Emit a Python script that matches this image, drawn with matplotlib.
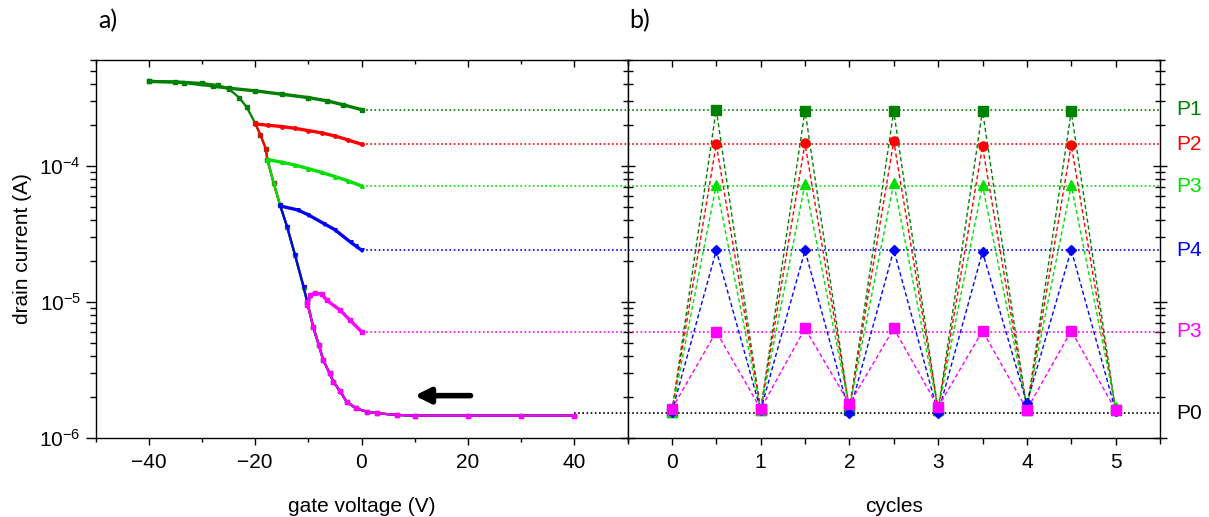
import numpy as np
import matplotlib.pyplot as plt
from matplotlib.ticker import MultipleLocator, LogLocator, NullFormatter
import matplotlib.transforms as mtransforms

plt.rcParams['font.family'] = ['Liberation Sans', 'DejaVu Sans']
plt.rcParams['mathtext.fontset'] = 'custom'
plt.rcParams['mathtext.rm'] = 'Liberation Sans'

# --- panel a: transfer curve (down sweep, shared by all runs) ---
vg_down = [-40, -35, -30, -27, -25, -23, -21.6, -20, -19, -18, -17.7, -16.5, -15.3, -14,
           -12.5, -10.9, -10.2, -9.1, -8, -7.2, -6, -5.3, -4, -2.8, -1, 1, 3, 6.6, 10, 20, 30, 40]
id_down = [4.25e-4, 4.2e-4, 4.1e-4, 3.95e-4, 3.72e-4, 3.2e-4, 2.73e-4, 2.08e-4, 1.7e-4, 1.35e-4,
           1.12e-4, 7.5e-5, 5.16e-5, 3.6e-5, 2.22e-5, 1.3e-5, 1.0e-5, 6.6e-6, 4.8e-6, 3.75e-6,
           3.0e-6, 2.6e-6, 2.2e-6, 1.85e-6, 1.65e-6, 1.56e-6, 1.52e-6, 1.48e-6, 1.46e-6,
           1.46e-6, 1.46e-6, 1.46e-6]

# return branches (stop voltage -> 0 V)
vg_p1 = [-40, -33.3, -28, -24.9, -20, -15, -10, -6.5, -3.4, 0]
id_p1 = [4.21e-4, 4.13e-4, 3.9e-4, 3.75e-4, 3.59e-4, 3.39e-4, 3.2e-4, 3.03e-4, 2.83e-4, 2.61e-4]
vg_p2 = [-20, -17.5, -15, -12.5, -10, -7.5, -5, -2.5, 0]
id_p2 = [2.05e-4, 2.0e-4, 1.96e-4, 1.9e-4, 1.83e-4, 1.76e-4, 1.67e-4, 1.56e-4, 1.45e-4]
vg_p3 = [-17.7, -15, -12.5, -10, -7.5, -5, -2.5, 0]
id_p3 = [1.12e-4, 1.07e-4, 1.02e-4, 9.6e-5, 9.0e-5, 8.4e-5, 7.8e-5, 7.15e-5]
vg_p4 = [-15.3, -12, -10, -7, -5, -2, -1, 0]
id_p4 = [5.1e-5, 4.77e-5, 4.39e-5, 3.77e-5, 3.41e-5, 2.75e-5, 2.58e-5, 2.41e-5]
vg_p5 = [-10.2, -9.6, -8.7, -7.5, -6.5, -4, -2.2, 0]
id_p5 = [9.5e-6, 1.12e-5, 1.17e-5, 1.14e-5, 1.03e-5, 8.7e-6, 7.4e-6, 6.05e-6]

# --- panel b: cycling ---
cyc_low = [0, 1, 2, 3, 4, 5]
cyc_high = [0.5, 1.5, 2.5, 3.5, 4.5]
low_p1 = [1.55e-6, 1.6e-6, 1.62e-6, 1.6e-6, 1.62e-6, 1.6e-6]
low_p2 = [1.58e-6, 1.62e-6, 1.65e-6, 1.62e-6, 1.65e-6, 1.62e-6]
low_p3 = [1.55e-6, 1.6e-6, 1.66e-6, 1.6e-6, 1.68e-6, 1.68e-6]
low_p4 = [1.55e-6, 1.6e-6, 1.52e-6, 1.52e-6, 1.8e-6, 1.58e-6]
low_p5 = [1.64e-6, 1.64e-6, 1.78e-6, 1.69e-6, 1.62e-6, 1.6e-6]
high_p1 = [2.61e-4, 2.57e-4, 2.53e-4, 2.57e-4, 2.53e-4]
high_p2 = [1.45e-4, 1.47e-4, 1.53e-4, 1.40e-4, 1.44e-4]
high_p3 = [7.3e-5, 7.45e-5, 7.55e-5, 7.25e-5, 7.25e-5]
high_p4 = [2.4e-5, 2.4e-5, 2.43e-5, 2.34e-5, 2.43e-5]
high_p5 = [6.05e-6, 6.4e-6, 6.4e-6, 6.15e-6, 6.15e-6]

levels = [2.6e-4, 1.45e-4, 7.15e-5, 2.4e-5, 6.05e-6, 1.52e-6]
level_names = ['P1', 'P2', 'P3', 'P4', 'P3', 'P0']

colors = ['#008000', '#FF0000', '#00E000', '#0000FF', '#FF00FF', '#000000']
markers = ['s', 'o', '^', 'D', 's']

W, H = 1209, 517
fig = plt.figure(figsize=(W / 100, H / 100), dpi=100)
bot = 1 - 438 / H
hgt = (438 - 60) / H
ax1 = fig.add_axes([95.5 / W, bot, 532 / W, hgt])
ax2 = fig.add_axes([627.5 / W, bot, 532.5 / W, hgt])

# panel a
vg_down = np.array(vg_down)
id_down = np.array(id_down)
branches = [(vg_p1, id_p1), (vg_p2, id_p2), (vg_p3, id_p3), (vg_p4, id_p4), (vg_p5, id_p5)]
amark = ['s', 'o', '^', 'v', 's']
for i, (vx, vy) in enumerate(branches):
    keep = vg_down >= vx[0]
    ax1.plot(vg_down[keep], id_down[keep], color=colors[i], lw=1.6, marker=amark[i],
             ms=2.5, zorder=3 + i)
    ax1.plot(vx, vy, color=colors[i], lw=2.4, marker=amark[i], ms=2.5, zorder=3 + i)

dots = (0, (1, 1.5))
for i, lv in enumerate(levels):
    x0 = 40 if i == 5 else 0
    ax1.hlines(lv, x0, 50, colors=colors[i], linestyles=dots, lw=1.2, zorder=2)
    ax2.axhline(lv, color=colors[i], ls=dots, lw=1.2, zorder=2)

ax1.annotate('', xy=(10, 2.05e-6), xytext=(20.5, 2.05e-6),
             arrowprops=dict(arrowstyle='-|>,head_length=0.9,head_width=0.45',
                             color='black', lw=4, shrinkA=0, shrinkB=0))

# panel b
lows = [low_p1, low_p2, low_p3, low_p4, low_p5]
highs = [high_p1, high_p2, high_p3, high_p4, high_p5]
for i in range(5):
    xs, ys = [], []
    for k in range(6):
        xs.append(cyc_low[k])
        ys.append(lows[i][k])
        if k < 5:
            xs.append(cyc_high[k])
            ys.append(highs[i][k])
    ax2.plot(xs, ys, color=colors[i], ls=(0, (3, 2)), lw=1.0, marker=markers[i],
             ms=6.5 if markers[i] != 'D' else 5.5, zorder=3 + i)

trans = mtransforms.blended_transform_factory(ax2.transAxes, ax2.transData)
for i, lv in enumerate(levels):
    ax2.text(1.03, lv, level_names[i], color=colors[i], fontsize=15,
             ha='left', va='center', transform=trans)

for ax in (ax1, ax2):
    ax.set_yscale('log')
    ax.set_ylim(1e-6, 6.05e-4)
    ax.yaxis.set_minor_locator(LogLocator(base=10, subs=np.arange(2, 10)))
    ax.yaxis.set_minor_formatter(NullFormatter())
    for s in ax.spines.values():
        s.set_linewidth(1.0)

ax1.set_xlim(-50, 50)
ax1.xaxis.set_major_locator(MultipleLocator(20))
ax1.xaxis.set_minor_locator(MultipleLocator(10))
ax1.tick_params(axis='x', which='both', top=True, labelsize=15, pad=6)
ax1.tick_params(axis='x', which='major', length=5, width=1)
ax1.tick_params(axis='x', which='minor', length=3, width=1)
ax1.tick_params(axis='y', which='major', direction='out', length=7, width=1, labelsize=15)
ax1.tick_params(axis='y', which='minor', direction='out', length=4, width=1)
ax1.set_xlabel('gate voltage (V)', fontsize=15, labelpad=18)
ax1.set_ylabel('drain current (A)', fontsize=15, labelpad=5)

ax2.set_xlim(-0.5, 5.5)
ax2.xaxis.set_major_locator(MultipleLocator(1))
ax2.xaxis.set_minor_locator(MultipleLocator(0.5))
ax2.tick_params(axis='x', which='both', top=True, labelsize=15, pad=6)
ax2.tick_params(axis='x', which='major', length=5, width=1)
ax2.tick_params(axis='x', which='minor', length=4, width=1)
ax2.tick_params(axis='y', which='both', left=True, right=True, labelleft=False,
                direction='inout', width=1)
ax2.tick_params(axis='y', which='major', length=10)
ax2.tick_params(axis='y', which='minor', length=7)
ax2.set_xlabel('cycles', fontsize=15, labelpad=18)

# top ticks point inward
for ax in (ax1, ax2):
    for t in ax.xaxis.get_major_ticks() + ax.xaxis.get_minor_ticks():
        t.tick2line.set_marker(3)

fig.text(98 / W, 1 - 21 / H, 'a)', fontsize=18, family=['Lato', 'DejaVu Sans'], va='center')
fig.text(629 / W, 1 - 21 / H, 'b)', fontsize=18, family=['Lato', 'DejaVu Sans'], va='center')

fig.savefig('out.png', dpi=100)
